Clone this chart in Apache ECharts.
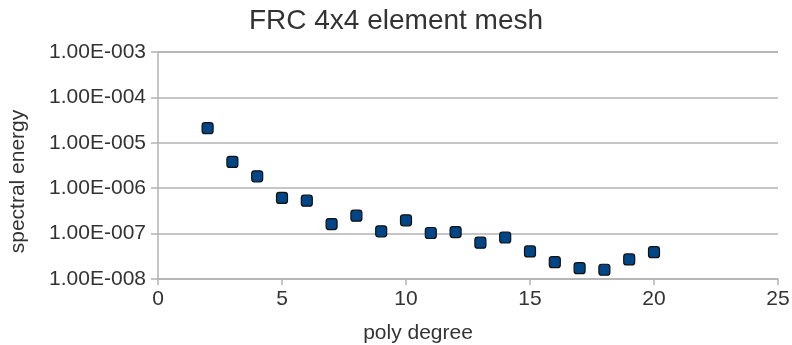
<!DOCTYPE html>
<html>
<head>
<meta charset="utf-8">
<script src="https://cdn.jsdelivr.net/npm/echarts@6/dist/echarts.min.js"></script>
<style>
  html, body { margin: 0; padding: 0; background: #fff; }
  #chart { width: 792px; height: 345px; }
</style>
</head>
<body>
<div id="chart"></div>
<script>
// poly degree vs spectral energy
const polyDegree = [2, 3, 4, 5, 6, 7, 8, 9, 10, 11, 12, 13, 14, 15, 16, 17, 18, 19, 20]
const spectralEnergy = [
  2.1e-5, 3.8e-6, 1.83e-6, 6.1e-7, 5.3e-7, 1.62e-7, 2.48e-7, 1.12e-7, 1.96e-7,
  1.03e-7, 1.08e-7, 6.3e-8, 8.2e-8, 4.05e-8, 2.35e-8, 1.73e-8, 1.6e-8, 2.7e-8, 3.9e-8
]

const fmtExp = (v) => {
  const e = Math.round(Math.log10(v))
  const m = v / Math.pow(10, e)
  const sign = e < 0 ? '-' : '+'
  return m.toFixed(2) + 'E' + sign + String(Math.abs(e)).padStart(3, '0')
}

const chart = echarts.init(document.getElementById('chart'))
const font = 'Liberation Sans, Arial, sans-serif'
const gridColor = '#b3b3b3'
const textColor = '#333'

chart.setOption({
  animation: false,
  textStyle: { fontFamily: font },
  title: {
    text: 'FRC 4x4 element mesh',
    left: 'center',
    top: 2,
    textStyle: { fontSize: 28, fontWeight: 'normal', color: textColor, fontFamily: font }
  },
  grid: { left: 158, right: 14, top: 52, bottom: 66, containLabel: false, outerBoundsMode: 'none' },
  xAxis: {
    type: 'value',
    min: 0,
    max: 25,
    interval: 5,
    name: 'poly degree',
    nameLocation: 'middle',
    nameGap: 44,
    // label sits left of the plot centre in the original
    nameTextStyle: { fontSize: 21, color: textColor, padding: [0, 100, 0, 0] },
    axisLine: { show: true, lineStyle: { color: gridColor, width: 1.5 } },
    axisTick: { show: true, length: 6, lineStyle: { color: gridColor, width: 1.5 } },
    axisLabel: { fontSize: 21, color: textColor, margin: 10 },
    splitLine: { show: false }
  },
  yAxis: {
    type: 'log',
    logBase: 10,
    min: 1e-8,
    max: 1e-3,
    name: 'spectral energy',
    nameLocation: 'middle',
    nameGap: 129,
    nameTextStyle: { fontSize: 21, color: textColor, padding: [0, 32, 0, 0] },
    axisLine: { show: true, lineStyle: { color: gridColor, width: 1.5 } },
    axisTick: { show: true, length: 7, lineStyle: { color: gridColor, width: 1.5 } },
    axisLabel: { fontSize: 21, color: textColor, margin: 12, formatter: fmtExp },
    splitLine: { show: true, lineStyle: { color: gridColor, width: 1.5 } }
  },
  series: [
    {
      type: 'scatter',
      data: polyDegree.map((x, i) => [x, spectralEnergy[i]]),
      symbol: 'roundRect',
      symbolSize: 11,
      itemStyle: { color: '#004586', opacity: 1, borderColor: '#111', borderWidth: 1.2 }
    }
  ]
})
</script>
</body>
</html>
